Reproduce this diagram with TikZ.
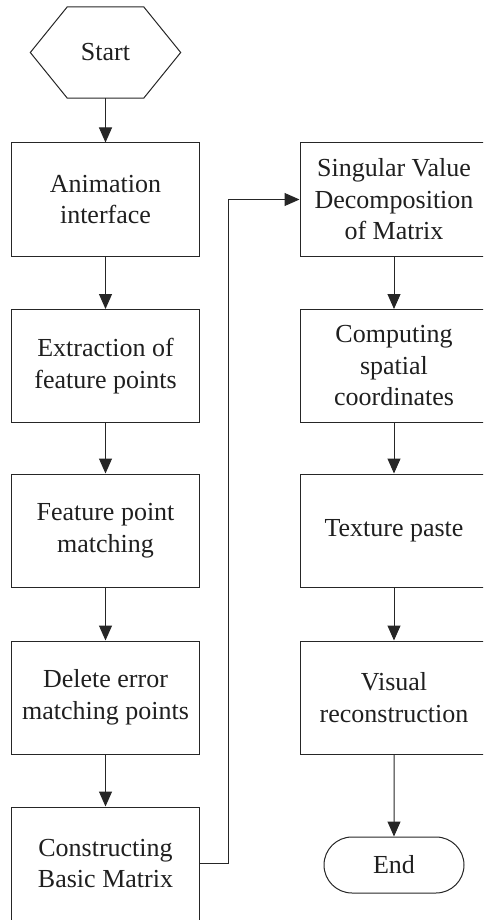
\documentclass[tikz,border=0pt]{standalone}
\usepackage{fontspec}
\setmainfont{Liberation Serif}
\usetikzlibrary{shapes.misc,arrows.meta}
\begin{document}
\begin{tikzpicture}[x=1pt,y=-1pt,
  every node/.style={font=\fontsize{26}{31.5}\selectfont, text=black!88},
  box/.style={draw=black!85, line width=1pt, minimum width=188pt, minimum height=113pt, inner sep=0pt, align=center},
  conn/.style={draw=black!85, line width=1pt, -{Triangle[length=15pt,width=13pt]}}
]
\useasboundingbox (0,0) rectangle (483,920);
\clip (0,0) rectangle (483,920);
% start hexagon
\node[minimum width=150pt, minimum height=91pt, inner sep=0pt] (start) at (105.5,52.5) {Start};
\draw[black!85, line width=1pt] (start.west) -- ([xshift=37pt]start.north west) -- ([xshift=-37pt]start.north east) -- (start.east) -- ([xshift=-37pt]start.south east) -- ([xshift=37pt]start.south west) -- cycle;
% left column
\node[box] (b1) at (105.5,199.5) {Animation\\interface};
\node[box] (b2) at (105.5,366) {Extraction of\\feature points};
\node[box] (b3) at (105.5,530.5) {Feature point\\matching};
\node[box] (b4) at (105.5,697.5) {Delete error\\matching points};
\node[box] (b5) at (105.5,863.5) {Constructing\\Basic Matrix};
% right column
\node[box] (b6) at (394,199.5) {Singular Value\\Decomposition\\of Matrix};
\node[box] (b7) at (394,366) {Computing\\spatial\\coordinates};
\node[box] (b8) at (394,530.5) {Texture paste};
\node[box] (b9) at (394,697.5) {Visual\\reconstruction};
\node[draw=black!85, line width=1pt, rounded rectangle, minimum width=140pt, minimum height=56pt, inner sep=0pt] (end) at (394,865) {End};
% connectors
\draw[conn] (start) -- (b1);
\draw[conn] (b1) -- (b2);
\draw[conn] (b2) -- (b3);
\draw[conn] (b3) -- (b4);
\draw[conn] (b4) -- (b5);
\coordinate (turn) at (228,863.5);
\draw[conn] (b5.east) -- (turn) |- (b6.west);
\draw[conn] (b6) -- (b7);
\draw[conn] (b7) -- (b8);
\draw[conn] (b8) -- (b9);
\draw[conn] (b9) -- (end);
\end{tikzpicture}
\end{document}
